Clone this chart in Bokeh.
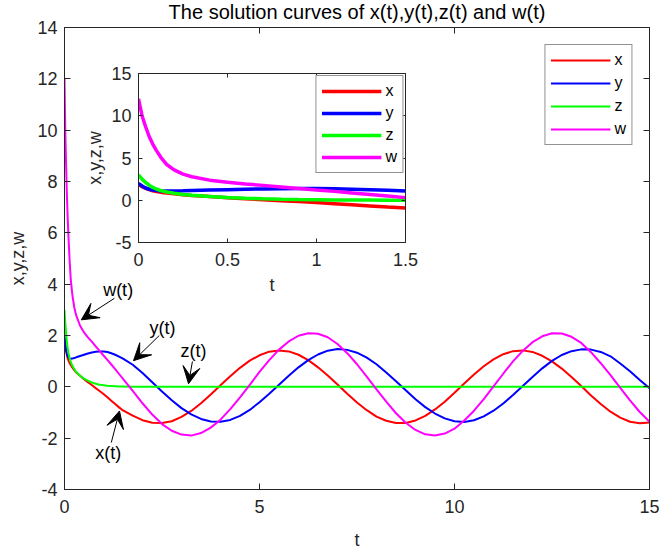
from bokeh.plotting import figure
from bokeh.models import (FixedTicker, LinearAxis, Label, Arrow, VeeHead, GridBox, Div)
from bokeh.embed import file_html
from bokeh.resources import INLINE

# ---------------- data ----------------
t = [0, 0.02, 0.04, 0.06, 0.08, 0.1, 0.13, 0.16, 0.2, 0.25, 0.3, 0.4, 0.5, 0.6, 0.7,
     0.8, 0.9, 1.0, 1.1, 1.2, 1.3, 1.4,
     1.5, 1.75, 2.0, 2.25, 2.5, 2.75, 3.0, 3.25, 3.5, 3.75,
     4.0, 4.25, 4.5, 4.75, 5.0, 5.25, 5.5, 5.75, 6.0, 6.25,
     6.5, 6.75, 7.0, 7.25, 7.5, 7.75, 8.0, 8.25, 8.5, 8.75,
     9.0, 9.25, 9.5, 9.75, 10.0, 10.25, 10.5, 10.75, 11.0, 11.25,
     11.5, 11.75, 12.0, 12.25, 12.5, 12.75, 13.0, 13.25, 13.5, 13.75,
     14.0, 14.25, 14.5, 14.75, 15.0]

x_vals = [1.9, 1.6, 1.4, 1.25, 1.12, 1.03, 0.93, 0.85, 0.76, 0.65, 0.56, 0.43, 0.3, 0.18, 0.07,
          -0.05, -0.16, -0.28, -0.41, -0.54, -0.67, -0.8,
          -0.92, -1.12, -1.30, -1.40, -1.41, -1.34, -1.17, -0.94, -0.64, -0.30,
          0.06, 0.41, 0.74, 1.02, 1.23, 1.37, 1.42, 1.38, 1.25, 1.04,
          0.76, 0.44, 0.09, -0.27, -0.61, -0.91, -1.16, -1.32, -1.41, -1.41,
          -1.31, -1.13, -0.88, -0.58, -0.23, 0.13, 0.48, 0.80, 1.07, 1.27,
          1.39, 1.42, 1.36, 1.21, 0.99, 0.71, 0.38, 0.03, -0.34, -0.67,
          -0.97, -1.20, -1.36, -1.42, -1.39]

y_vals = [2.0, 1.7, 1.45, 1.3, 1.2, 1.14, 1.1, 1.09, 1.1, 1.12, 1.15, 1.2, 1.25, 1.3, 1.34,
          1.37, 1.38, 1.38, 1.36, 1.31, 1.25, 1.18,
          1.10, 0.86, 0.54, 0.18, -0.18, -0.52, -0.83, -1.07, -1.25, -1.35,
          -1.36, -1.29, -1.13, -0.90, -0.60, -0.27, 0.08, 0.43, 0.76, 1.04,
          1.26, 1.41, 1.47, 1.44, 1.33, 1.14, 0.88, 0.56, 0.22, -0.13,
          -0.48, -0.79, -1.04, -1.23, -1.34, -1.37, -1.30, -1.15, -0.93, -0.65,
          -0.32, 0.03, 0.38, 0.72, 1.01, 1.24, 1.39, 1.46, 1.45, 1.36,
          1.19, 0.91, 0.61, 0.27, -0.05]

z_vals = [3.0, 2.5, 2.1, 1.78, 1.52, 1.33, 1.12, 0.97, 0.83, 0.69, 0.58, 0.43, 0.32, 0.24, 0.17,
          0.12, 0.08, 0.06, 0.04, 0.03, 0.02, 0.01,
          0.01, 0.0, 0.0, 0.0, 0.0, 0.0, 0.0, 0.0, 0.0, 0.0,
          0.0, 0.0, 0.0, 0.0, 0.0, 0.0, 0.0, 0.0, 0.0, 0.0,
          0.0, 0.0, 0.0, 0.0, 0.0, 0.0, 0.0, 0.0, 0.0, 0.0,
          0.0, 0.0, 0.0, 0.0, 0.0, 0.0, 0.0, 0.0, 0.0, 0.0,
          0.0, 0.0, 0.0, 0.0, 0.0, 0.0, 0.0, 0.0, 0.0, 0.0,
          0.0, 0.0, 0.0, 0.0, 0.0]

w_vals = [12.0, 10.0, 8.7, 7.55, 6.65, 5.9, 4.95, 4.2, 3.6, 3.1, 2.78, 2.38, 2.12, 1.93, 1.76,
          1.58, 1.40, 1.22, 1.05, 0.87, 0.69, 0.5,
          0.31, -0.16, -0.64, -1.08, -1.45, -1.71, -1.86, -1.90, -1.80, -1.59,
          -1.28, -0.87, -0.41, 0.08, 0.58, 1.04, 1.45, 1.77, 1.99, 2.09,
          2.07, 1.93, 1.67, 1.31, 0.88, 0.40, -0.10, -0.58, -1.03, -1.40,
          -1.68, -1.85, -1.90, -1.82, -1.63, -1.31, -0.93, -0.48, 0.02, 0.51,
          0.99, 1.40, 1.74, 1.97, 2.09, 2.08, 1.95, 1.71, 1.35, 0.92,
          0.46, -0.04, -0.53, -0.98, -1.36]

series_names = ["x", "y", "z", "w"]
series_colors = ["#FF0000", "#0000FF", "#00FF00", "#FF00FF"]

main_x_ticks = [0, 5, 10, 15]
main_x_labels = ["0", "5", "10", "15"]
main_y_ticks = [-4, -2, 0, 2, 4, 6, 8, 10, 12, 14]
main_y_labels = ["-4", "-2", "0", "2", "4", "6", "8", "10", "12", "14"]
inset_x_ticks = [0, 0.5, 1, 1.5]
inset_x_labels = ["0", "0.5", "1", "1.5"]
inset_y_ticks = [-5, 0, 5, 10, 15]
inset_y_labels = ["-5", "0", "5", "10", "15"]

title_text = "The solution curves of x(t),y(t),z(t) and w(t)"
ann_texts = ["w(t)", "y(t)", "z(t)", "x(t)"]

# ---------------- styling helpers ----------------
FONT = "Liberation Sans"
AX = "#262626"
TICK_FS = "18px"


def style_axis(ax, ticks, labels, tick_len, show_labels=True):
    ax.ticker = FixedTicker(ticks=ticks)
    ax.axis_line_color = AX
    ax.axis_line_width = 1
    ax.major_tick_line_color = AX
    ax.major_tick_in = tick_len
    ax.major_tick_out = 0
    ax.minor_tick_line_color = None
    ax.major_label_text_font = FONT
    ax.axis_label_text_font = FONT
    ax.axis_label_text_font_style = "normal"
    ax.axis_label_text_font_size = TICK_FS
    ax.axis_label_text_color = AX
    if show_labels:
        ax.major_label_overrides = {tk: lb for tk, lb in zip(ticks, labels)}
        ax.major_label_text_color = AX
        ax.major_label_text_font_size = TICK_FS
    else:
        ax.major_label_text_color = None
        ax.major_label_text_alpha = 0
        ax.major_label_text_font_size = "0px"
        ax.major_label_standoff = 0
        ax.axis_label_standoff = 0


def style_legend(lg, margin):
    lg.location = "top_right"
    lg.margin = margin
    lg.padding = 5
    lg.spacing = 3
    lg.glyph_width = 60
    lg.glyph_height = 20
    lg.label_height = 20
    lg.label_width = 0
    lg.label_standoff = 4
    lg.label_text_font = FONT
    lg.label_text_font_size = "16px"
    lg.label_text_color = "black"
    lg.border_line_color = AX
    lg.border_line_width = 1
    lg.background_fill_color = "white"
    lg.background_fill_alpha = 1


# ---------------- main figure ----------------
p = figure(width=662, height=552, x_range=(0, 15), y_range=(-4, 14),
           output_backend="svg", toolbar_location=None, title_location=None,
           min_border_left=63, min_border_right=10, min_border_top=27, min_border_bottom=60)
p.grid.visible = False
p.outline_line_color = AX
p.background_fill_color = "white"

style_axis(p.xaxis[0], main_x_ticks, main_x_labels, 6)
style_axis(p.yaxis[0], main_y_ticks, main_y_labels, 6)
p.xaxis[0].axis_label = "t"
p.yaxis[0].axis_label = "x,y,z,w"
p.xaxis[0].major_label_standoff = 10
p.xaxis[0].axis_label_standoff = 14
p.yaxis[0].major_label_standoff = 7
p.yaxis[0].axis_label_standoff = 6

top_ax = LinearAxis()
style_axis(top_ax, main_x_ticks, main_x_labels, 6, show_labels=False)
p.add_layout(top_ax, "above")
right_ax = LinearAxis()
style_axis(right_ax, main_y_ticks, main_y_labels, 6, show_labels=False)
p.add_layout(right_ax, "right")

for name, vals, col in zip(series_names, [x_vals, y_vals, z_vals, w_vals], series_colors):
    p.line(t, vals, line_color=col, line_width=2, legend_label=name)

style_legend(p.legend[0], 17)

# annotations (arrows + labels)
ann_pos = [(1.375, 3.79), (2.51, 2.28), (3.31, 1.39), (1.12, -2.59)]
arrow_pos = [((1.28, 3.45), (0.43, 2.61)),
             ((2.43, 2.0), (1.77, 1.02)),
             ((3.28, 0.99), (3.18, 0.12)),
             ((1.2, -2.17), (1.41, -0.94))]
for (tx, ty), txt in zip(ann_pos, ann_texts):
    p.add_layout(Label(x=tx, y=ty, text=txt, text_align="center", text_baseline="middle",
                       text_font=FONT, text_font_size="18px", text_color="black"))
for (s, e) in arrow_pos:
    p.add_layout(Arrow(x_start=s[0], y_start=s[1], x_end=e[0], y_end=e[1],
                       line_color="black", line_width=1,
                       end=VeeHead(size=17, fill_color="black", line_color="black", line_width=1)))

# ---------------- inset figure ----------------
q = figure(width=344, height=259, x_range=(0, 1.5), y_range=(-5, 15),
           output_backend="svg", toolbar_location=None, title_location=None,
           min_border_left=64, min_border_right=13, min_border_top=13, min_border_bottom=63,
           border_fill_color=None, background_fill_color="white")
q.grid.visible = False
q.outline_line_color = AX
style_axis(q.xaxis[0], inset_x_ticks, inset_x_labels, 4)
style_axis(q.yaxis[0], inset_y_ticks, inset_y_labels, 4)
q.xaxis[0].axis_label = "t"
q.yaxis[0].axis_label = "x,y,z,w"
q.xaxis[0].major_label_standoff = 10
q.xaxis[0].axis_label_standoff = 6
q.yaxis[0].major_label_standoff = 7
q.yaxis[0].axis_label_standoff = 3
q_top = LinearAxis()
style_axis(q_top, inset_x_ticks, inset_x_labels, 4, show_labels=False)
q.add_layout(q_top, "above")
q_right = LinearAxis()
style_axis(q_right, inset_y_ticks, inset_y_labels, 4, show_labels=False)
q.add_layout(q_right, "right")

for name, vals, col in zip(series_names, [x_vals, y_vals, z_vals, w_vals], series_colors):
    q.line(t, vals, line_color=col, line_width=3.5, legend_label=name)

style_legend(q.legend[0], 2)
q.legend[0].spacing = 2

# ---------------- title ----------------
title_div = Div(text=title_text, width=420, height=24,
                styles={"font-family": FONT, "font-size": "20px", "text-align": "center",
                        "line-height": "24px", "color": "black", "white-space": "nowrap"})

q.margin = (46, 0, 0, 74)
p.margin = (0, 0, 0, 0)
title_div.margin = (0, 0, 0, 147)

layout = GridBox(children=[(p, 0, 0), (q, 0, 0), (title_div, 0, 0)])

open("out.html", "w").write(file_html(layout, INLINE))
